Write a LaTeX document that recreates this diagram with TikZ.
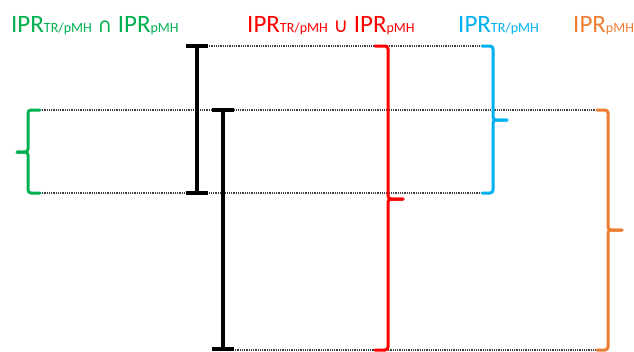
\documentclass[tikz,border=0pt]{standalone}
\usepackage{fontspec}
\setmainfont{Carlito}
\newfontfamily\symfnt{DejaVu Sans}
\definecolor{cgreen}{RGB}{0,176,80}
\definecolor{cred}{RGB}{255,0,0}
\definecolor{cblue}{RGB}{0,176,240}
\definecolor{corange}{RGB}{237,125,49}
\newcommand{\sbx}[1]{{\fontsize{14}{14}\selectfont\raisebox{-0.5pt}{#1}}}
\begin{document}
\begin{tikzpicture}[x=1pt,y=-1pt,
  lbl/.style={anchor=base west,inner sep=0pt,font=\fontsize{25}{25}\selectfont},
  guide/.style={line width=1.3pt,draw=black!75,dash pattern=on 1pt off 0.8pt},
  ibar/.style={line width=4pt,draw=black},
  brace/.style={line width=3pt,rounded corners=3pt,line cap=round}]
\useasboundingbox (0,0) rectangle (634,351);
% labels
\node[lbl,text=cgreen] (lg) at (11,32) {IPR\sbx{TR/pMH} {\symfnt\fontsize{20}{20}\selectfont ∩} IPR\sbx{pMH}};
\node[lbl,text=cred] (lr) at (247,32) {IPR\sbx{TR/pMH} {\symfnt\fontsize{20}{20}\selectfont ∪} IPR\sbx{pMH}};
\node[lbl,text=cblue] (lb) at (458,32) {IPR\sbx{TR/pMH}};
\node[lbl,text=corange] (lo) at (573,32) {IPR\sbx{pMH}};
% key points
\coordinate (a1) at (197,46);  \coordinate (a2) at (197,193);
\coordinate (b1) at (223,110); \coordinate (b2) at (223,349);
\coordinate (g1) at (40,110);  \coordinate (g2) at (40,193);
\coordinate (r1) at (375,46);  \coordinate (r2) at (375,350);
\coordinate (u1) at (482,46);  \coordinate (u2) at (482,193);
\coordinate (o1) at (597,110); \coordinate (o2) at (597,350);
% guide lines
\draw[guide] (207,46) -- (u1);
\draw[guide] (g1) -- (o1);
\draw[guide] (g2) -- (u2);
\draw[guide] (233,350) -- (o2);
% black bars
\draw[ibar] (a1) -- (a2);
\draw[ibar] ([xshift=-11pt]a1) -- ([xshift=11pt]a1);
\draw[ibar] ([xshift=-11pt]a2) -- ([xshift=11pt]a2);
\draw[ibar] (b1) -- (b2);
\draw[ibar] ([xshift=-11pt]b1) -- ([xshift=11pt]b1);
\draw[ibar] ([xshift=-11pt]b2) -- ([xshift=11pt]b2);
% green brace
\draw[brace,cgreen] (g1) -- (28,110) -- (28,152) -- (17,152);
\draw[brace,cgreen] (17,152) -- (28,152) -- (28,193) -- (g2);
% red brace
\draw[brace,cred] (r1) -- (388,46) -- (388,199) -- (403,199);
\draw[brace,cred] (403,199) -- (388,199) -- (388,350) -- (r2);
% blue brace
\draw[brace,cblue] (u1) -- (493,46) -- (493,120) -- (507,120);
\draw[brace,cblue] (507,120) -- (493,120) -- (493,193) -- (u2);
% orange brace
\draw[brace,corange] (o1) -- (608,110) -- (608,230) -- (622,230);
\draw[brace,corange] (622,230) -- (608,230) -- (608,350) -- (o2);
\end{tikzpicture}
\end{document}
